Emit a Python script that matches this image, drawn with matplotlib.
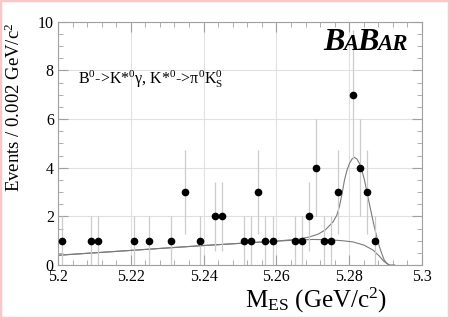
import matplotlib
matplotlib.use("Agg")
import matplotlib.pyplot as plt
from matplotlib.patches import Rectangle
import numpy as np

# data
bin_centers = [5.201, 5.209, 5.211, 5.221, 5.225, 5.231, 5.235, 5.239, 5.243, 5.245,
               5.251, 5.253, 5.255, 5.257, 5.259, 5.265, 5.267, 5.269, 5.271, 5.273,
               5.275, 5.277, 5.281, 5.283, 5.285, 5.287]
counts = [1, 1, 1, 1, 1, 1, 3, 1, 2, 2,
          1, 1, 3, 1, 1, 1, 1, 2, 4, 1,
          1, 3, 7, 4, 3, 1]

bkg_x = [5.200, 5.210, 5.220, 5.230, 5.240, 5.250, 5.260, 5.265, 5.270, 5.274,
         5.278, 5.281, 5.284, 5.2865, 5.2883, 5.2896, 5.2910]
bkg_y = [0.40, 0.50, 0.60, 0.70, 0.80, 0.89, 0.98, 1.02, 1.05, 1.04,
         1.00, 0.95, 0.82, 0.62, 0.36, 0.14, 0.00]

tot_x = [5.200, 5.210, 5.220, 5.230, 5.240, 5.250, 5.260, 5.262, 5.266, 5.269,
         5.2715, 5.2735, 5.2756, 5.2766, 5.2773, 5.2780, 5.2787, 5.2794, 5.2801,
         5.2808, 5.2814, 5.2821, 5.2828, 5.2835, 5.2842, 5.2848, 5.2855, 5.2862,
         5.2869, 5.2876, 5.2883, 5.2890, 5.2896, 5.2903, 5.2910, 5.2925]
tot_y = [0.40, 0.50, 0.60, 0.70, 0.80, 0.89, 0.98, 1.01, 1.06, 1.15,
         1.27, 1.45, 1.78, 2.05, 2.40, 2.90, 3.49, 3.90, 4.18,
         4.36, 4.43, 4.36, 4.18, 3.88, 3.49, 3.05, 2.54, 2.05,
         1.57, 1.14, 0.75, 0.45, 0.21, 0.07, 0.00, 0.00]

xticks = [5.2, 5.22, 5.24, 5.26, 5.28, 5.3]
xticklabels = ["5.2", "5.22", "5.24", "5.26", "5.28", "5.3"]
yticks = [0, 2, 4, 6, 8, 10]

plt.rcParams['font.family'] = ['Liberation Serif', 'DejaVu Serif']
plt.rcParams['mathtext.fontset'] = 'custom'
plt.rcParams['mathtext.rm'] = 'Liberation Serif'
plt.rcParams['mathtext.it'] = 'Liberation Serif:italic'

fig = plt.figure(figsize=(4.49, 3.18), dpi=100)
ax = fig.add_axes([58/449, 1-265/318, (422-58)/449, (265-21.7)/318])

frame_col = '#a0a0a0'
grid_col = '#e0e0e0'
for s in ax.spines.values():
    s.set_color(frame_col)
    s.set_linewidth(0.8)

ax.set_xlim(5.2, 5.3)
ax.set_ylim(0, 10)
ax.set_xticks(xticks)
ax.set_xticklabels(xticklabels)
ax.set_yticks(yticks)
ax.set_xticks(np.arange(5.2, 5.3001, 0.004), minor=True)
ax.set_yticks(np.arange(0, 10.01, 0.5), minor=True)
ax.tick_params(which='both', direction='in', top=True, right=True, color=frame_col,
               labelsize=11.5, labelcolor='black')
ax.tick_params(which='major', length=7, width=0.8)
ax.tick_params(which='minor', length=3.5, width=0.6)
ax.tick_params(axis='x', pad=3)
ax.tick_params(axis='y', pad=3)
ax.grid(True, which='major', color=grid_col, linewidth=0.8)
ax.set_axisbelow(True)

cnt = np.array(counts, dtype=float)
err = np.sqrt(cnt)
ax.errorbar(bin_centers, counts, yerr=err, fmt='o', color='black', markersize=4.5,
            ecolor='#cccccc', elinewidth=0.9, capsize=0, zorder=3)

ax.plot(bkg_x, bkg_y, color='#7a7a7a', linewidth=0.8, zorder=2)
ax.plot(tot_x, tot_y, color='#7a7a7a', linewidth=0.8, zorder=2)

ax.set_xlabel(r"M$_{\mathrm{ES}}$ (GeV/c$^{2}$)", fontsize=18)
ax.xaxis.set_label_coords(0.71, -0.085)
ax.xaxis.label.set_va('top')
ax.set_ylabel(r"Events / 0.002 GeV/c$^{2}$", fontsize=13.5)
ax.yaxis.set_label_coords(-0.094, 0.65)

ax.text(0.055, 0.765, "B$^{0}$->K*$^{0}$γ, K*$^{0}$->π$^{0}$K$^{0}_{\\mathrm{S}}$",
        transform=ax.transAxes, fontsize=11.5, ha='left', va='center')

# BaBar logo
logo = [("B", 23), ("A", 16.5), ("B", 23), ("AR", 16.5)]
x0 = 0.73
fig.canvas.draw()
renderer = fig.canvas.get_renderer()
for s, fs in logo:
    t = ax.text(x0, 0.885, s, transform=ax.transAxes, fontsize=fs, fontweight='bold',
                fontstyle='italic', ha='left', va='baseline')
    bb = t.get_window_extent(renderer=renderer)
    x0 += bb.width / ax.bbox.width * 0.93

fig.patches.append(Rectangle((0, 0), 1, 1, transform=fig.transFigure, fill=False,
                             edgecolor='#f8c8c8', linewidth=2.5, zorder=10))

fig.savefig("out.png", dpi=100)
